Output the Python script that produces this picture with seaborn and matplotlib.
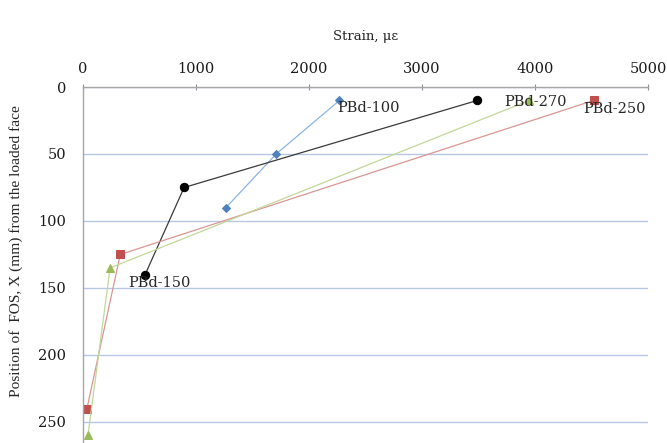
import matplotlib
matplotlib.use("Agg")
import matplotlib.pyplot as plt
import seaborn as sns
import pandas as pd

series_names = ["PBd-100", "PBd-150", "PBd-250", "PBd-270"]
strain_100 = [2270, 1710, 1265]
pos_100 = [10, 50, 90]
strain_150 = [3490, 895, 550]
pos_150 = [10, 75, 140]
strain_250 = [4520, 330, 35]
pos_250 = [10, 125, 240]
strain_270 = [3950, 240, 44]
pos_270 = [10, 135, 260]

x_ticks = [0, 1000, 2000, 3000, 4000, 5000]
y_ticks = [0, 50, 100, 150, 200, 250]

sns.set_theme(style="white")
plt.rcParams['font.family'] = ['DejaVu Serif', 'Liberation Serif']

fig = plt.figure(figsize=(6.67, 4.43), dpi=100)
ax = fig.add_axes([0.1244, 0.0, 0.8471, 0.8036])

data = [
    (strain_100, pos_100, "#4f81bd", "#8db3e2", "D", 4),
    (strain_150, pos_150, "black", "#3a3a3a", "o", 6),
    (strain_250, pos_250, "#c0504d", "#d99694", "s", 6),
    (strain_270, pos_270, "#9bbb59", "#c3d69b", "^", 6),
]
for name, (xs, ys, mc, lc, mk, ms) in zip(series_names, data):
    df = pd.DataFrame({"strain": xs, "pos": ys})
    sns.lineplot(data=df, x="strain", y="pos", sort=False, ax=ax, color=lc,
                 linewidth=0.9, marker=mk, markersize=ms, markerfacecolor=mc,
                 markeredgecolor=mc, estimator=None)

ax.set_xlim(0, 5000)
ax.set_ylim(265.7, 0)
ax.xaxis.tick_top()
ax.xaxis.set_label_position("top")
ax.set_xticks(x_ticks)
ax.set_yticks(y_ticks)
ax.tick_params(axis="both", labelsize=10.5, colors="#909090", labelcolor="#1a1a1a",
               length=3, width=0.8)
ax.tick_params(axis="x", direction="inout", length=4, pad=6)
ax.tick_params(axis="y", direction="out", pad=9)
ax.yaxis.grid(True, color="#b9c7e6", linewidth=1.0)
ax.xaxis.grid(False)
for s in ["right", "bottom"]:
    ax.spines[s].set_visible(False)
for s in ["top", "left"]:
    ax.spines[s].set_color("#a6a6a6")
    ax.spines[s].set_linewidth(1.0)

ax.set_xlabel("Strain, \u03bc\u03b5", fontsize=9.5, labelpad=16)
ax.set_ylabel("Position of  FOS, X (mm) from the loaded face", fontsize=11.1,
              family=["Liberation Serif", "DejaVu Serif"])
ax.yaxis.set_label_coords(-0.106, 0.539)

ax.text(2248, 16, "PBd-100", fontsize=10.5, ha="left", va="center")
ax.text(3726, 11, "PBd-270", fontsize=10.5, ha="left", va="center")
ax.text(4425, 16.5, "PBd-250", fontsize=10.5, ha="left", va="center")
ax.text(398, 146, "PBd-150", fontsize=10.5, ha="left", va="center")

fig.savefig("out.png", dpi=100)
